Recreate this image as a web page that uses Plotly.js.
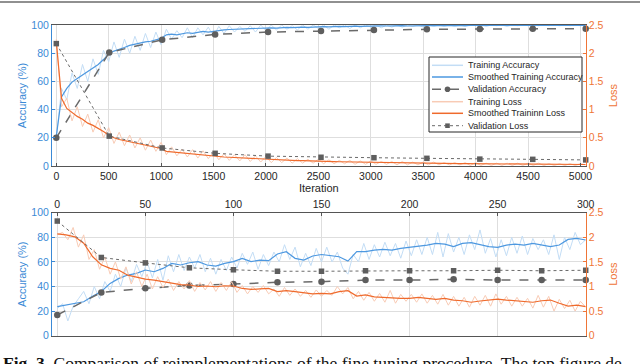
<!DOCTYPE html>
<html>
<head>
<meta charset="utf-8">
<script src="https://cdn.plot.ly/plotly-3.0.1.min.js"></script>
<style>
  html, body { margin: 0; padding: 0; background: #fff; }
  #chart { width: 640px; height: 364px; }
</style>
</head>
<body>
<div id="chart"></div>
<script>
// top run: 5050 iterations, read every 50 iterations
var topStep = 50;
var topAcc = [20, 55, 47, 66, 55, 72, 60, 76, 65, 82,
  74, 88, 77, 90, 80, 92, 82, 94, 84, 95,
  86, 97, 90, 96, 91, 98, 91, 98, 93, 98.5,
  92, 99, 94, 99.5, 95, 99, 95.5, 99.5, 95, 100,
  96, 100, 96.5, 100, 97, 99.5, 96.5, 100, 97, 100,
  97.5, 100, 97, 100, 98, 100, 97.5, 100, 98, 100,
  98.5, 100, 98, 100, 98.5, 100, 98.5, 100, 99, 100,
  98.5, 100, 99, 100, 99, 100, 99, 100, 99, 100,
  99.5, 100, 99, 100, 99.5, 100, 99, 100, 99.5, 100,
  99.5, 100, 99.5, 100, 99.5, 100, 99.5, 100, 99.5, 100,
  99.5, 100];
var topAccSmooth = [21, 49, 55, 59.5, 62, 64.5, 67, 69.5, 72, 75.5,
  79.5, 81.5, 82.5, 84, 85.5, 86.5, 87, 88, 88.5, 89.5,
  90.5, 93, 93.5, 93, 94, 94.5, 94, 95, 95.5, 95,
  95.5, 96.5, 96.5, 96.8, 97, 96.8, 97.2, 97.5, 97.3, 97.6,
  97.8, 98, 97.8, 98.2, 98.3, 98.1, 98.4, 98.5, 98.3, 98.6,
  98.7, 98.8, 98.6, 98.9, 99, 98.8, 99.1, 99.2, 99, 99.2,
  99.3, 99.2, 99.4, 99.3, 99.5, 99.4, 99.5, 99.3, 99.5, 99.6,
  99.4, 99.6, 99.5, 99.6, 99.7, 99.5, 99.6, 99.7, 99.6, 99.7,
  99.7, 99.6, 99.7, 99.8, 99.7, 99.6, 99.8, 99.7, 99.8, 99.7,
  99.8, 99.7, 99.8, 99.8, 99.7, 99.8, 99.8, 99.7, 99.8, 99.8,
  99.8, 99.8];
var topLoss = [2.25, 1.05, 1.2, 0.8, 1.05, 0.7, 0.92, 0.6, 0.82, 0.5,
  0.68, 0.4, 0.6, 0.36, 0.55, 0.32, 0.5, 0.28, 0.46, 0.26,
  0.42, 0.2, 0.34, 0.18, 0.3, 0.16, 0.29, 0.14, 0.27, 0.13,
  0.25, 0.11, 0.22, 0.1, 0.2, 0.09, 0.2, 0.08, 0.18, 0.07,
  0.17, 0.06, 0.15, 0.06, 0.14, 0.05, 0.13, 0.05, 0.12, 0.05,
  0.12, 0.04, 0.11, 0.04, 0.1, 0.04, 0.1, 0.03, 0.09, 0.03,
  0.09, 0.03, 0.08, 0.03, 0.08, 0.02, 0.08, 0.02, 0.07, 0.02,
  0.07, 0.02, 0.07, 0.02, 0.06, 0.02, 0.06, 0.02, 0.06, 0.01,
  0.06, 0.01, 0.05, 0.01, 0.05, 0.01, 0.05, 0.01, 0.05, 0.01,
  0.05, 0.01, 0.05, 0.01, 0.04, 0.01, 0.04, 0.01, 0.04, 0.01,
  0.04, 0.02];
var topLossSmooth = [2.2, 1.2, 1.02, 0.95, 0.88, 0.83, 0.76, 0.72, 0.67, 0.61,
  0.55, 0.5, 0.47, 0.45, 0.42, 0.4, 0.38, 0.36, 0.34, 0.33,
  0.31, 0.26, 0.25, 0.24, 0.23, 0.22, 0.21, 0.2, 0.2, 0.19,
  0.18, 0.16, 0.16, 0.155, 0.15, 0.145, 0.14, 0.135, 0.13, 0.125,
  0.12, 0.11, 0.11, 0.105, 0.1, 0.1, 0.095, 0.095, 0.09, 0.09,
  0.085, 0.08, 0.08, 0.078, 0.075, 0.073, 0.07, 0.07, 0.068, 0.066,
  0.065, 0.062, 0.06, 0.06, 0.058, 0.056, 0.055, 0.054, 0.052, 0.05,
  0.05, 0.048, 0.047, 0.046, 0.045, 0.044, 0.043, 0.042, 0.041, 0.04,
  0.04, 0.038, 0.037, 0.036, 0.036, 0.035, 0.034, 0.034, 0.033, 0.032,
  0.032, 0.031, 0.031, 0.03, 0.03, 0.03, 0.029, 0.029, 0.028, 0.028,
  0.028, 0.027];
var topValIter = [0, 505, 1010, 1515, 2020, 2525, 3030, 3535, 4040, 4545, 5050];
var topValAcc = [20, 80.5, 89.5, 93.3, 95, 95.8, 96.4, 96.9, 97.1, 97.3, 97.4];
var topValLoss = [2.17, 0.53, 0.32, 0.225, 0.175, 0.155, 0.147, 0.136, 0.122, 0.118, 0.108];

// bottom run: 300 iterations
var botStep = 3;        // raw values read every 3 iterations
var botSmoothStep = 5;  // smoothed values read every 5 iterations
var botAcc = [22, 26, 12, 24, 30, 36, 26, 40, 30, 44,
  36, 50, 40, 55, 44, 58, 48, 60, 47, 62,
  45, 65, 52, 66, 53, 64, 55, 66, 52, 63,
  50, 62, 53, 64, 55, 67, 58, 68, 54, 66,
  57, 68, 60, 74, 62, 72, 56, 67, 57, 71,
  60, 72, 60, 68, 55, 50, 66, 60, 75, 62,
  74, 64, 76, 65, 75, 63, 77, 65, 78, 66,
  80, 66, 84, 64, 83, 68, 80, 66, 82, 70,
  86, 67, 79, 64, 78, 65, 80, 67, 81, 66,
  79, 70, 78, 66, 82, 62, 80, 70, 84, 74,
  78];
var botAccSmooth = [23.6, 24.9, 26.3, 27.6, 32, 36, 42.5, 46.6, 49.3, 50.7,
  53.4, 52, 54.7, 58.8, 57.5, 59.3, 60.2, 57.5, 56.6, 58.8,
  60.2, 62.9, 60.2, 61.5, 61, 66.4, 68.3, 62.9, 61.5, 64.8,
  66, 64.8, 64.2, 60.7, 68.3, 68.3, 69.6, 70.2, 69.6, 71,
  71.8, 72.4, 73.7, 75, 74.5, 72.4, 75, 75.6, 73.7, 72.4,
  71.8, 73.7, 74.5, 73.7, 75, 73.7, 72.4, 73.7, 78.3, 79.1,
  77.8];
var botLoss = [2.05, 2.1, 1.95, 2.2, 1.8, 2.05, 1.55, 1.75, 1.35, 1.6,
  1.25, 1.5, 1.15, 1.4, 1.05, 1.3, 1.0, 1.25, 0.95, 1.2,
  0.98, 1.15, 0.92, 1.1, 0.95, 1.12, 0.9, 1.08, 0.93, 1.1,
  0.9, 1.08, 0.92, 1.1, 0.88, 1.02, 0.85, 1.0, 0.88, 1.02,
  0.85, 0.95, 0.8, 0.98, 0.82, 0.95, 0.8, 0.92, 0.78, 0.93,
  0.8, 0.92, 0.82, 1.0, 0.85, 0.98, 0.75, 0.9, 0.72, 0.88,
  0.7, 0.86, 0.68, 0.92, 0.66, 0.84, 0.7, 0.84, 0.68, 0.85,
  0.66, 0.82, 0.64, 0.84, 0.62, 0.8, 0.6, 0.78, 0.58, 0.8,
  0.62, 0.82, 0.6, 0.85, 0.64, 0.8, 0.6, 0.78, 0.6, 0.76,
  0.56, 0.82, 0.58, 0.8, 0.5, 0.74, 0.55, 0.72, 0.5, 0.7,
  0.58];
var botLossSmooth = [2.07, 2.05, 2.01, 1.88, 1.61, 1.44, 1.37, 1.33, 1.23, 1.19,
  1.15, 1.13, 1.10, 1.06, 1.04, 1.03, 1.0, 1.01, 0.995, 1.015,
  1.01, 0.96, 0.94, 0.95, 0.96, 0.895, 0.915, 0.895, 0.875, 0.85,
  0.86, 0.85, 0.895, 0.915, 0.805, 0.83, 0.79, 0.78, 0.76, 0.76,
  0.76, 0.78, 0.76, 0.74, 0.76, 0.725, 0.71, 0.68, 0.705, 0.725,
  0.745, 0.725, 0.71, 0.69, 0.68, 0.71, 0.725, 0.66, 0.6, 0.62,
  0.59];
var botValIter = [0, 25, 50, 75, 100, 125, 150, 175, 200, 225, 250, 275, 300];
var botValAcc = [16.8, 35.2, 38.5, 40.9, 42, 43.4, 43.9, 45.2, 45.2, 45.8, 45.2, 45.2, 45.2];
var botValLoss = [2.33, 1.59, 1.48, 1.38, 1.34, 1.31, 1.31, 1.32, 1.32, 1.32, 1.33, 1.32, 1.33];

var legendLabels = ['Training Accuracy', 'Smoothed Training Accuracy', 'Validation Accuracy',
  'Training Loss', 'Smoothed Traininn Loss', 'Validation Loss'];
var caption = '<b>Fig. 3.</b> Comparison of reimplementations of the fine tuning procedure. The top figure de';

// colours
var blue = '#3b8ad6';
var orange = '#ef7537';
var rawBlue = '#c3ddf5';
var smoothBlue = '#4d98e0';
var rawOrange = '#f8cbb5';
var smoothOrange = '#ef6a2c';
var valGray = '#5e5e5e';
var sans = 'Liberation Sans, Arial, Helvetica, sans-serif';

// page pixel -> paper fraction
var W = 640, H = 364;
function px(x) { return x / W; }
function py(y) { return 1 - y / H; }

function idx(arr, step) { return arr.map(function (v, i) { return i * step; }); }

function line(x, y, xa, ya, color, width) {
  return { x: x, y: y, xaxis: xa, yaxis: ya, type: 'scatter', mode: 'lines',
    line: { color: color, width: width }, hoverinfo: 'skip' };
}
function valTrace(x, y, xa, ya, dash, symbol, size, width) {
  return { x: x, y: y, xaxis: xa, yaxis: ya, type: 'scatter', mode: 'lines+markers', cliponaxis: false,
    line: { color: '#6a6a6a', width: width, dash: dash },
    marker: { color: valGray, size: size, symbol: symbol } };
}

var data = [
  line(idx(topAcc, topStep), topAcc, 'x', 'y', rawBlue, 1),
  line(idx(topAccSmooth, topStep), topAccSmooth, 'x', 'y', smoothBlue, 1.2),
  valTrace(topValIter, topValAcc, 'x', 'y', 'dash', 'circle', 6.5, 1.5),
  line(idx(topLoss, topStep), topLoss, 'x', 'y2', rawOrange, 1),
  line(idx(topLossSmooth, topStep), topLossSmooth, 'x', 'y2', smoothOrange, 1.2),
  valTrace(topValIter, topValLoss, 'x', 'y2', 'dot', 'square', 5.5, 1),

  line(idx(botAcc, botStep), botAcc, 'x2', 'y3', rawBlue, 1),
  line(idx(botAccSmooth, botSmoothStep), botAccSmooth, 'x2', 'y3', smoothBlue, 1.2),
  valTrace(botValIter, botValAcc, 'x2', 'y3', 'dash', 'circle', 6.5, 1.5),
  line(idx(botLoss, botStep), botLoss, 'x2', 'y4', rawOrange, 1),
  line(idx(botLossSmooth, botSmoothStep), botLossSmooth, 'x2', 'y4', smoothOrange, 1.2),
  valTrace(botValIter, botValLoss, 'x2', 'y4', 'dot', 'square', 5.5, 1)
];

var tickFont = { family: sans, size: 10.5, color: '#262626' };

function xAxis(extra) {
  var a = { showgrid: true, gridcolor: '#dedede', gridwidth: 1, zeroline: false,
    showline: true, linecolor: '#555', linewidth: 1, mirror: true,
    ticks: 'inside', ticklen: 3, tickcolor: '#555', tickfont: tickFont, automargin: false };
  for (var k in extra) a[k] = extra[k];
  return a;
}
function accAxis(extra) {
  var a = { range: [0, 100], dtick: 20, showgrid: true, gridcolor: '#dedede', zeroline: false,
    showline: true, linecolor: blue, linewidth: 1, ticks: 'inside', ticklen: 3, tickcolor: blue,
    tickfont: { family: sans, size: 10.5, color: blue }, automargin: false,
    title: { text: 'Accuracy (%)', font: { family: sans, size: 11, color: blue }, standoff: 2 } };
  for (var k in extra) a[k] = extra[k];
  return a;
}
function lossAxis(extra) {
  var a = { range: [0, 2.5], dtick: 0.5, side: 'right', showgrid: false, zeroline: false,
    showline: true, linecolor: orange, linewidth: 1, ticks: 'inside', ticklen: 3, tickcolor: orange,
    tickfont: { family: sans, size: 10.5, color: orange }, automargin: false,
    title: { text: 'Loss', font: { family: sans, size: 11, color: orange }, standoff: 6 } };
  for (var k in extra) a[k] = extra[k];
  return a;
}

// hand-built legend box (MATLAB style, tight rows)
var shapes = [
  { type: 'line', xref: 'paper', yref: 'paper', x0: 0, x1: 1, y0: py(2), y1: py(2),
    line: { color: '#222', width: 1.2 } },
  { type: 'rect', xref: 'paper', yref: 'paper', layer: 'above',
    x0: px(429), x1: px(582), y0: py(132), y1: py(57),
    fillcolor: 'white', line: { color: '#262626', width: 1 } }
];
var annotations = [];
var rowY = [65.3, 77, 89.3, 101.7, 113.3, 125.7];
var sampleStyle = [
  { color: rawBlue, width: 1.5, dash: 'solid' },
  { color: smoothBlue, width: 1.5, dash: 'solid' },
  { color: '#6a6a6a', width: 1.5, dash: 'dash' },
  { color: rawOrange, width: 1.5, dash: 'solid' },
  { color: smoothOrange, width: 1.5, dash: 'solid' },
  { color: '#6a6a6a', width: 1, dash: 'dot' }
];
rowY.forEach(function (y, i) {
  shapes.push({ type: 'line', xref: 'paper', yref: 'paper', layer: 'above',
    x0: px(432), x1: px(463), y0: py(y), y1: py(y), line: sampleStyle[i] });
  annotations.push({ xref: 'paper', yref: 'paper', x: px(465.5), y: py(y),
    xanchor: 'left', yanchor: 'middle', showarrow: false, text: legendLabels[i],
    font: { family: sans, size: 9, color: '#262626' } });
});
shapes.push({ type: 'circle', xref: 'paper', yref: 'paper', layer: 'above',
  x0: px(444.7), x1: px(450.3), y0: py(rowY[2] + 2.8), y1: py(rowY[2] - 2.8),
  fillcolor: valGray, line: { color: valGray, width: 0 } });
shapes.push({ type: 'rect', xref: 'paper', yref: 'paper', layer: 'above',
  x0: px(445.2), x1: px(449.8), y0: py(rowY[5] + 2.3), y1: py(rowY[5] - 2.3),
  fillcolor: valGray, line: { color: valGray, width: 0 } });

// figure caption, cut off by the bottom edge as in the source page
annotations.push({ xref: 'paper', yref: 'paper', x: px(1), y: py(351), xanchor: 'left', yanchor: 'top',
  showarrow: false, text: caption, align: 'left',
  font: { family: 'Liberation Serif, DejaVu Serif, serif', size: 17.5, color: '#111' } });

var layout = {
  width: 640, height: 364,
  margin: { l: 0, r: 0, t: 0, b: 0 },
  paper_bgcolor: 'white', plot_bgcolor: 'white',
  showlegend: false,
  font: { family: sans },
  xaxis: xAxis({ domain: [px(52), px(585.7)], anchor: 'y', range: [-41, 5050], tick0: 0, dtick: 500,
    title: { text: 'Iteration', font: { family: sans, size: 11, color: '#262626' }, standoff: 3 } }),
  yaxis: accAxis({ domain: [py(166), py(25)], anchor: 'x' }),
  yaxis2: lossAxis({ overlaying: 'y', anchor: 'x' }),
  xaxis2: xAxis({ domain: [px(52), px(585.7)], anchor: 'y3', side: 'top', range: [-3, 300], tick0: 0, dtick: 50 }),
  yaxis3: accAxis({ domain: [py(335.7), py(212.7)], anchor: 'x2' }),
  yaxis4: lossAxis({ overlaying: 'y3', anchor: 'x2' }),
  shapes: shapes,
  annotations: annotations
};

Plotly.newPlot('chart', data, layout, { staticPlot: true, displayModeBar: false });
</script>
</body>
</html>
